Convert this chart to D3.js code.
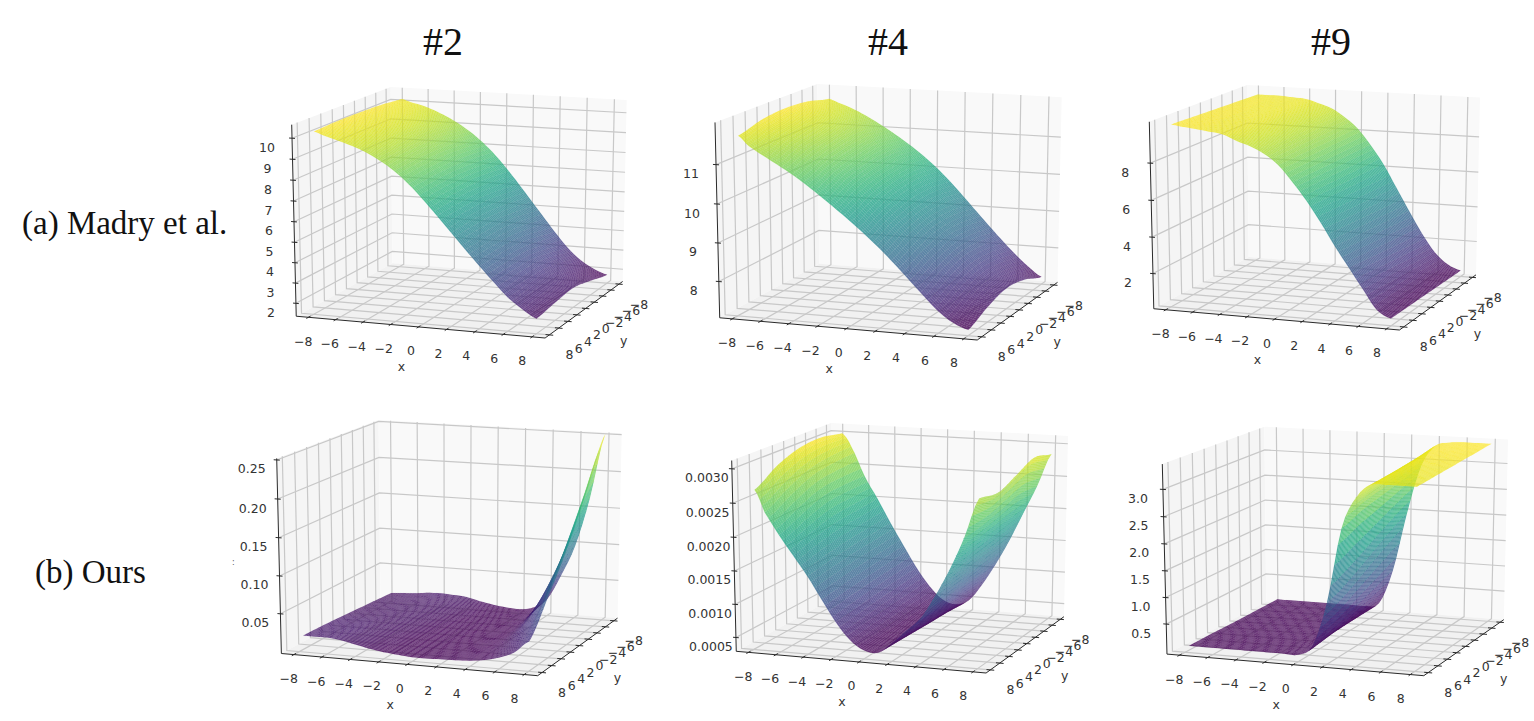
<!DOCTYPE html>
<html>
<head>
<meta charset="utf-8">
<style>
  html, body { margin: 0; padding: 0; background: #fff; }
  svg { display: block; }
  .tick-label { font-family: "DejaVu Sans", sans-serif; font-size: 12.5px; fill: #333; text-anchor: middle; dominant-baseline: central; }
  .caption { font-family: "Liberation Serif", serif; fill: #111; }
</style>
</head>
<body>
<svg id="figure" width="1534" height="721"></svg>
<script src="https://cdn.jsdelivr.net/npm/d3@7"></script>
<script>
// Grid nodes shared by every loss surface.
const gridX = [-7.7, -7, -6, -5, -4, -3, -2, -1, 0, 1, 2, 3, 4, 5, 6, 7, 8];
const gridY = [-8, -4, 0, 4, 8];

const xTicks = [-8, -6, -4, -2, 0, 2, 4, 6, 8];
const yTicks = [-8, -6, -4, -2, 0, 2, 4, 6, 8];

const zTicksMadry2 = [2, 3, 4, 5, 6, 7, 8, 9, 10];
const zTicksMadry4 = [8, 9, 10, 11];
const zTicksMadry9 = [2, 4, 6, 8];
const zTicksOurs2 = [0.05, 0.10, 0.15, 0.20, 0.25];
const zTicksOurs4 = [0.0005, 0.0010, 0.0015, 0.0020, 0.0025, 0.0030];
const zTicksOurs9 = [0.5, 1.0, 1.5, 2.0, 2.5, 3.0];

// Loss values: one row per gridY node, one column per gridX node.
const lossMadry2 = [
  [10.16, 10.02, 9.86, 9.62, 9.31, 8.93, 8.46, 7.88, 7.18, 6.38, 5.53, 4.68, 3.83, 3.05, 2.45, 2.05, 1.8],
  [10.27, 10.12, 9.95, 9.72, 9.43, 9.06, 8.61, 8.03, 7.34, 6.57, 5.75, 4.93, 4.12, 3.37, 2.76, 2.34, 2.1],
  [10.31, 10.16, 9.98, 9.77, 9.49, 9.13, 8.7, 8.13, 7.45, 6.7, 5.91, 5.12, 4.35, 3.62, 3.0, 2.57, 2.35],
  [10.32, 10.16, 9.97, 9.76, 9.49, 9.13, 8.7, 8.13, 7.45, 6.7, 5.93, 5.15, 4.4, 3.67, 3.02, 2.56, 2.25],
  [10.27, 10.1, 9.91, 9.7, 9.44, 9.08, 8.64, 8.07, 7.39, 6.65, 5.89, 5.13, 4.39, 3.67, 2.99, 2.49, 2.09]
];
const lossMadry4 = [
  [11.73, 11.64, 11.51, 11.34, 11.14, 10.92, 10.68, 10.42, 10.12, 9.78, 9.4, 9.0, 8.6, 8.21, 7.84, 7.51, 7.25],
  [11.88, 11.75, 11.6, 11.43, 11.23, 11.0, 10.76, 10.49, 10.2, 9.87, 9.5, 9.12, 8.72, 8.34, 7.98, 7.68, 7.5],
  [11.93, 11.77, 11.6, 11.41, 11.21, 10.97, 10.73, 10.46, 10.17, 9.85, 9.5, 9.13, 8.75, 8.37, 8.02, 7.75, 7.6],
  [11.87, 11.68, 11.48, 11.28, 11.06, 10.82, 10.57, 10.3, 10.0, 9.68, 9.34, 8.97, 8.58, 8.2, 7.85, 7.58, 7.45],
  [11.7, 11.46, 11.24, 11.03, 10.81, 10.56, 10.29, 10.01, 9.72, 9.41, 9.08, 8.72, 8.34, 7.96, 7.6, 7.34, 7.2]
];
const lossMadry9 = [
  [9.8, 9.8, 9.8, 9.75, 9.7, 9.5, 9.25, 8.8, 8.2, 7.3, 6.25, 4.95, 3.65, 2.4, 1.35, 0.7, 0.4],
  [9.85, 9.83, 9.81, 9.75, 9.69, 9.47, 9.22, 8.79, 8.2, 7.32, 6.29, 5.04, 3.77, 2.55, 1.49, 0.74, 0.41],
  [9.9, 9.87, 9.83, 9.76, 9.68, 9.43, 9.18, 8.78, 8.2, 7.33, 6.33, 5.13, 3.88, 2.7, 1.63, 0.78, 0.43],
  [9.95, 9.9, 9.84, 9.76, 9.67, 9.39, 9.14, 8.77, 8.2, 7.34, 6.37, 5.22, 3.99, 2.85, 1.77, 0.82, 0.44],
  [10.0, 9.93, 9.85, 9.75, 9.65, 9.35, 9.1, 8.75, 8.2, 7.35, 6.4, 5.3, 4.1, 3.0, 1.9, 0.85, 0.45]
];
const lossOurs2 = [
  [0.012, 0.013, 0.014, 0.016, 0.017, 0.016, 0.0145, 0.01, 0.0065, 0.004, 0.003, 0.007, 0.02, 0.055, 0.098, 0.165, 0.252],
  [0.014, 0.015, 0.015, 0.016, 0.016, 0.015, 0.012, 0.009, 0.006, 0.004, 0.0025, 0.005, 0.013, 0.04, 0.08, 0.13, 0.19],
  [0.016, 0.016, 0.016, 0.016, 0.015, 0.013, 0.01, 0.007, 0.005, 0.003, 0.002, 0.003, 0.007, 0.022, 0.05, 0.085, 0.13],
  [0.018, 0.018, 0.018, 0.017, 0.014, 0.011, 0.008, 0.005, 0.0035, 0.0025, 0.0025, 0.003, 0.005, 0.012, 0.025, 0.045, 0.08],
  [0.019, 0.019, 0.019, 0.017, 0.013, 0.009, 0.006, 0.004, 0.0025, 0.0025, 0.003, 0.0035, 0.0045, 0.007, 0.012, 0.02, 0.036]
];
const lossOurs4 = [
  [0.0030, 0.0028, 0.00235, 0.002, 0.00163, 0.00128, 0.00094, 0.00066, 0.00046, 0.0004, 0.00048, 0.00075, 0.00109, 0.00148, 0.00192, 0.00236, 0.00286],
  [0.00306, 0.00278, 0.00235, 0.00197, 0.0016, 0.00125, 0.00092, 0.00064, 0.00045, 0.0004, 0.00051, 0.00075, 0.00106, 0.00144, 0.00187, 0.00238, 0.00294],
  [0.00303, 0.00272, 0.00232, 0.00194, 0.00157, 0.00122, 0.00089, 0.00062, 0.00044, 0.0004, 0.00052, 0.00076, 0.00103, 0.0014, 0.00182, 0.0023, 0.00282],
  [0.0029, 0.00256, 0.00219, 0.00186, 0.00152, 0.00118, 0.00085, 0.00059, 0.00043, 0.0004, 0.00054, 0.00076, 0.001, 0.00135, 0.00176, 0.00222, 0.0027],
  [0.00268, 0.00236, 0.00204, 0.00175, 0.00146, 0.00113, 0.00081, 0.00056, 0.00042, 0.0004, 0.00056, 0.00076, 0.00096, 0.0013, 0.0017, 0.00218, 0.00276]
];
const lossOurs9 = [
  [0.05, 0.05, 0.05, 0.05, 0.05, 0.05, 0.05, 0.05, 0.13, 0.8, 1.95, 2.9, 3.3, 3.38, 3.4, 3.4, 3.4],
  [0.05, 0.05, 0.05, 0.05, 0.05, 0.05, 0.05, 0.05, 0.11, 0.65, 1.75, 2.8, 3.22, 3.36, 3.37, 3.37, 3.37],
  [0.05, 0.05, 0.05, 0.05, 0.05, 0.05, 0.05, 0.05, 0.09, 0.5, 1.5, 2.7, 3.15, 3.33, 3.34, 3.34, 3.34],
  [0.06, 0.06, 0.06, 0.06, 0.06, 0.06, 0.06, 0.06, 0.07, 0.35, 1.25, 2.6, 3.08, 3.3, 3.31, 3.31, 3.31],
  [0.06, 0.06, 0.06, 0.06, 0.06, 0.06, 0.06, 0.06, 0.06, 0.25, 1.07, 2.45, 3.03, 3.27, 3.28, 3.28, 3.28]
];

const columnTitles = [
  { text: "#2", x: 443 },
  { text: "#4", x: 888 },
  { text: "#9", x: 1331 }
];
const rowTitles = [
  { text: "(a) Madry et al.", x: 22, y: 234 },
  { text: "(b) Ours", x: 35, y: 583 }
];

const panels = [
  { loss: lossMadry2, zTicks: zTicksMadry2, zDomain: [1.36, 10.64], digits: 0, frame: [291.7, 626.7, 87, 338] },
  { loss: lossMadry4, zTicks: zTicksMadry4, zDomain: [7.05, 12.06], digits: 0, frame: [715, 1061.7, 84, 340] },
  { loss: lossMadry9, zTicks: zTicksMadry9, zDomain: [0.05, 10.2], digits: 0, frame: [1149.3, 1480, 85, 330] },
  { loss: lossOurs2, zTicks: zTicksOurs2, zDomain: [-0.003, 0.252], digits: 2, frame: [276.7, 621.7, 420, 675.7] },
  { loss: lossOurs4, zTicks: zTicksOurs4, zDomain: [0.00029, 0.00312], digits: 4, frame: [731.7, 1068, 423, 673] },
  { loss: lossOurs9, zTicks: zTicksOurs9, zDomain: [-0.07, 3.46], digits: 1, frame: [1162.3, 1508, 426.7, 675.7] }
];

const axisLimit = 8.9;
const elevation = 15 * Math.PI / 180;
const azimuth = -70 * Math.PI / 180;
const eyeDistance = 10;
const surfaceAlpha = 0.78;
const subdivideX = 4;
const subdivideY = 14;

const svg = d3.select("#figure");

// Perspective camera looking at the centre of the unit cube.
const dot = (a, b) => a[0] * b[0] + a[1] * b[1] + a[2] * b[2];
const viewDir = [Math.cos(elevation) * Math.cos(azimuth), Math.cos(elevation) * Math.sin(azimuth), Math.sin(elevation)];
const eye = viewDir.map(c => 0.5 + eyeDistance * c);
const rightDir = (() => {
  const r = [-viewDir[1], viewDir[0], 0];
  const n = Math.hypot(r[0], r[1]);
  return [r[0] / n, r[1] / n, 0];
})();
const upDir = [
  viewDir[1] * rightDir[2] - viewDir[2] * rightDir[1],
  viewDir[2] * rightDir[0] - viewDir[0] * rightDir[2],
  viewDir[0] * rightDir[1] - viewDir[1] * rightDir[0]
];
function camera(p) {
  const d = [p[0] - eye[0], p[1] - eye[1], p[2] - eye[2]];
  const depth = -dot(d, viewDir);
  return { u: dot(d, rightDir) / depth, v: dot(d, upDir) / depth, depth };
}

const corners = d3.cross([0, 1], d3.cross([0, 1], [0, 1])).map(([a, [b, c]]) => camera([a, b, c]));
const uExtent = d3.extent(corners, c => c.u);
const vExtent = d3.extent(corners, c => c.v);

// Catmull-Rom blend through the nodes of a row or column, for smooth shading between them.
function smoothAt(values, f) {
  const n = values.length;
  const i = Math.min(Math.floor(f), n - 2);
  const t = f - i;
  const a = values[Math.max(i - 1, 0)], b = values[i], c = values[i + 1], d = values[Math.min(i + 2, n - 1)];
  return 0.5 * (2 * b + (c - a) * t + (2 * a - 5 * b + 4 * c - d) * t * t + (3 * b - a - 3 * c + d) * t * t * t);
}

columnTitles.forEach(t => {
  svg.append("text").attr("class", "caption").attr("x", t.x).attr("y", 55)
    .attr("text-anchor", "middle").style("font-size", "40px").text(t.text);
});
rowTitles.forEach(t => {
  svg.append("text").attr("class", "caption").attr("x", t.x).attr("y", t.y)
    .style("font-size", "33px").text(t.text);
});
svg.append("text").attr("x", 232).attr("y", 565).style("font-family", "DejaVu Sans")
  .style("font-size", "8px").attr("fill", "#555").text(":");

panels.forEach(drawPanel);

function drawPanel(panel) {
  const g = svg.append("g");
  const [left, right, top, bottom] = panel.frame;
  const screenU = d3.scaleLinear().domain(uExtent).range([left, right]);
  const screenV = d3.scaleLinear().domain(vExtent).range([bottom, top]);
  const nx = d3.scaleLinear().domain([-axisLimit, axisLimit]).range([0, 1]);
  const ny = d3.scaleLinear().domain([axisLimit, -axisLimit]).range([0, 1]);
  const nz = d3.scaleLinear().domain(panel.zDomain).range([0, 1]);
  const color = d3.scaleSequential(d3.interpolateViridis).domain(d3.extent(panel.loss.flat()));
  const worldOfX = d3.scaleLinear().domain(d3.range(gridX.length)).range(gridX);
  const worldOfY = d3.scaleLinear().domain(d3.range(gridY.length)).range(gridY);

  const toScreen = p => {
    const c = camera(p);
    return [screenU(c.u), screenV(c.v)];
  };
  const polyline = pts => pts.map(toScreen);
  const pathOf = d3.line();

  const wall = (pts, fill) => g.append("path").attr("d", pathOf(polyline(pts)) + "Z").attr("fill", fill).attr("stroke", "none");
  wall([[0, 0, 0], [0, 1, 0], [0, 1, 1], [0, 0, 1]], "#f5f5f5");
  wall([[0, 1, 0], [1, 1, 0], [1, 1, 1], [0, 1, 1]], "#f9f9f9");
  wall([[0, 0, 0], [1, 0, 0], [1, 1, 0], [0, 1, 0]], "#f1f1f1");

  const gridLine = pts => g.append("path").attr("d", pathOf(polyline(pts))).attr("fill", "none")
    .attr("stroke", "#c8c8c8").attr("stroke-width", 1.2);
  xTicks.forEach(t => gridLine([[nx(t), 0, 0], [nx(t), 1, 0], [nx(t), 1, 1]]));
  yTicks.forEach(t => gridLine([[0, ny(t), 1], [0, ny(t), 0], [1, ny(t), 0]]));
  panel.zTicks.forEach(t => gridLine([[0, 0, nz(t)], [0, 1, nz(t)], [1, 1, nz(t)]]));

  const axisLine = pts => g.append("path").attr("d", pathOf(polyline(pts))).attr("fill", "none")
    .attr("stroke", "#2a2a2a").attr("stroke-width", 1);
  axisLine([[0, 0, 0], [1, 0, 0]]);
  axisLine([[1, 0, 0], [1, 1, 0]]);
  axisLine([[0, 0, 0], [0, 0, 1]]);
  xTicks.forEach(t => axisLine([[nx(t), -0.02, 0], [nx(t), 0.02, 0]]));
  yTicks.forEach(t => axisLine([[0.985, ny(t), 0], [1.015, ny(t), 0]]));
  panel.zTicks.forEach(t => axisLine([[-0.012, 0, nz(t)], [0.012, 0, nz(t)]]));

  // Surface cells, refined for smooth shading and painted from the back forwards.
  const rowsAtColumn = fx => panel.loss.map(row => smoothAt(row, fx));
  const gridPoint = (fx, fy) => {
    const z = smoothAt(rowsAtColumn(fx), fy);
    return { p: [nx(worldOfX(fx)), ny(worldOfY(fy)), nz(z)], z };
  };
  const cells = [];
  const stepsX = (gridX.length - 1) * subdivideX;
  const stepsY = (gridY.length - 1) * subdivideY;
  for (let i = 0; i < stepsX; i++) {
    for (let j = 0; j < stepsY; j++) {
      const c = [[i, j], [i + 1, j], [i + 1, j + 1], [i, j + 1]]
        .map(([a, b]) => gridPoint(a / subdivideX, b / subdivideY));
      const centre = [0, 1, 2].map(k => d3.mean(c, q => q.p[k]));
      cells.push({
        d: pathOf(c.map(q => toScreen(q.p))) + "Z",
        z: d3.mean(c, q => q.z),
        depth: camera(centre).depth
      });
    }
  }
  cells.sort((a, b) => d3.descending(a.depth, b.depth));
  g.append("g").selectAll("path").data(cells).join("path")
    .attr("d", d => d.d)
    .attr("fill", d => color(d.z))
    .attr("fill-opacity", surfaceAlpha)
    .attr("stroke", d => color(d.z))
    .attr("stroke-opacity", 0.15)
    .attr("stroke-width", 0.3);

  // Tick labels and axis names.
  const minus = v => String(v).replace("-", "\u2212");
  const label = (xy, dx, dy, text) => g.append("text").attr("class", "tick-label")
    .attr("x", xy[0] + dx).attr("y", xy[1] + dy).text(text);
  xTicks.forEach(t => {
    const f = nx(t);
    label(toScreen([f, 0, 0]), -5 - 5 * f, 24, minus(t));
  });
  yTicks.forEach(t => label(toScreen([1, ny(t), 0]), 20, 20, minus(t)));
  const zFormat = d3.format("." + panel.digits + "f");
  panel.zTicks.forEach(t => label(toScreen([0, 0, nz(t)]), -25, 9, zFormat(t)));
  label(toScreen([0.5, 0, 0]), -17, 40, "x");
  label(toScreen([1, 0.5, 0]), 38, 32, "y");
}
</script>
</body>
</html>
